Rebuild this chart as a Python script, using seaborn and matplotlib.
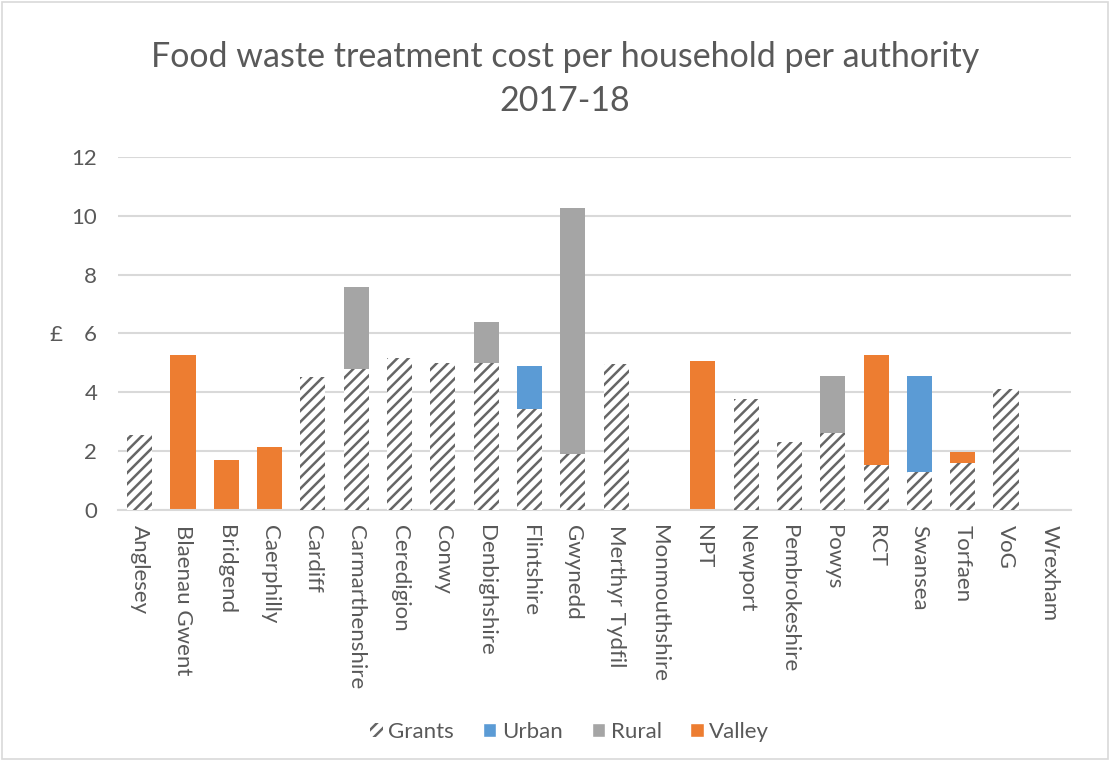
import matplotlib
matplotlib.use("Agg")
import matplotlib.pyplot as plt
import matplotlib.patches as mpatches
import seaborn as sns
import numpy as np
import pandas as pd

authorities = ["Anglesey", "Blaenau Gwent", "Bridgend", "Caerphilly", "Cardiff",
               "Carmarthenshire", "Ceredigion", "Conwy", "Denbighshire", "Flintshire",
               "Gwynedd", "Merthyr Tydfil", "Monmouthshire", "NPT", "Newport",
               "Pembrokeshire", "Powys", "RCT", "Swansea", "Torfaen", "VoG", "Wrexham"]
grants = [2.55, 0, 0, 0, 4.53, 4.79, 5.15, 5.0, 4.98, 3.45,
          1.92, 4.96, 0, 0, 3.76, 2.32, 2.63, 1.53, 1.30, 1.61, 4.13, 0]
urban = [0, 0, 0, 0, 0, 0, 0, 0, 0, 1.46,
         0, 0, 0, 0, 0, 0, 0, 0, 3.27, 0, 0, 0]
rural = [0, 0, 0, 0, 0, 2.80, 0, 0, 1.42, 0,
         8.35, 0, 0, 0, 0, 0, 1.94, 0, 0, 0, 0, 0]
valley = [0, 5.27, 1.70, 2.13, 0, 0, 0, 0, 0, 0,
          0, 0, 0, 5.06, 0, 0, 0, 3.74, 0, 0.35, 0, 0]
yticks = [0, 2, 4, 6, 8, 10, 12]

C_URBAN = "#5B9BD5"
C_RURAL = "#A5A5A5"
C_VALLEY = "#ED7D31"
C_TEXT = "#595959"
C_GRID = "#D9D9D9"
C_HATCH = "#666666"

sns.set_theme(style="white")
plt.rcParams["font.family"] = ["Lato", "DejaVu Sans"]
plt.rcParams["hatch.linewidth"] = 1.8

df = pd.DataFrame({"authority": authorities, "grants": grants, "urban": urban,
                   "rural": rural, "valley": valley})
df["l1"] = df["grants"] + df["urban"]
df["l2"] = df["l1"] + df["rural"]
df["l3"] = df["l2"] + df["valley"]

fig = plt.figure(figsize=(11.1, 7.62), dpi=100)
ax = fig.add_axes([0.1063, 0.3307, 0.8586, 0.4633])

W = 0.58
sns.barplot(data=df, x="authority", y="l3", color=C_VALLEY, saturation=1, width=W,
            linewidth=0, ax=ax, zorder=2)
sns.barplot(data=df, x="authority", y="l2", color=C_RURAL, saturation=1, width=W,
            linewidth=0, ax=ax, zorder=3)
sns.barplot(data=df, x="authority", y="l1", color=C_URBAN, saturation=1, width=W,
            linewidth=0, ax=ax, zorder=4)
sns.barplot(data=df, x="authority", y="grants", color="white", saturation=1, width=W,
            linewidth=0, ax=ax, zorder=5)
for p in ax.containers[-1]:
    p.set_facecolor("white")
    p.set_edgecolor(C_HATCH)
    p.set_hatch("///")
    p.set_linewidth(0)

ax.set_ylim(0, 12)
ax.set_xlim(-0.5, len(authorities) - 0.5)
ax.set_yticks(yticks)
ax.set_yticklabels([str(v) for v in yticks])
ax.set_xlabel("")
ax.set_ylabel("")
ax.yaxis.grid(True, color=C_GRID, linewidth=1.5, zorder=0)
ax.set_axisbelow(True)
for s in ["top", "right", "left"]:
    ax.spines[s].set_visible(False)
ax.spines["bottom"].set_color(C_GRID)
ax.spines["bottom"].set_linewidth(1.5)
ax.tick_params(axis="y", length=0, labelsize=16, labelcolor=C_TEXT, pad=15)
ax.tick_params(axis="x", length=0, labelsize=16, labelcolor=C_TEXT, pad=11)
for lab in ax.get_xticklabels():
    lab.set_rotation(-90)
    lab.set_ha("center")
    lab.set_va("top")

fig.text(0.509, 0.925, "Food waste treatment cost per household per authority",
         ha="center", va="center", fontsize=24.5, color=C_TEXT)
fig.text(0.509, 0.868, "2017-18", ha="center", va="center", fontsize=24.5, color=C_TEXT)
fig.text(0.05, 0.56, "£", ha="center", va="center", fontsize=16, color=C_TEXT)

handles = [
    mpatches.Patch(facecolor="white", edgecolor=C_HATCH, hatch="///", linewidth=0, label="Grants"),
    mpatches.Patch(facecolor=C_URBAN, label="Urban"),
    mpatches.Patch(facecolor=C_RURAL, label="Rural"),
    mpatches.Patch(facecolor=C_VALLEY, label="Valley"),
]
leg = fig.legend(handles=handles, loc="center", bbox_to_anchor=(0.513, 0.04), ncol=4,
                 frameon=False, fontsize=16, handlelength=0.6, handleheight=0.6,
                 handletextpad=0.25, columnspacing=1.3)
for t in leg.get_texts():
    t.set_color(C_TEXT)

fig.patches.append(mpatches.Rectangle((0.002, 0.004), 0.996, 0.993, transform=fig.transFigure,
                                      fill=False, edgecolor=C_GRID, linewidth=1.2))

fig.savefig("out.png", dpi=100)
